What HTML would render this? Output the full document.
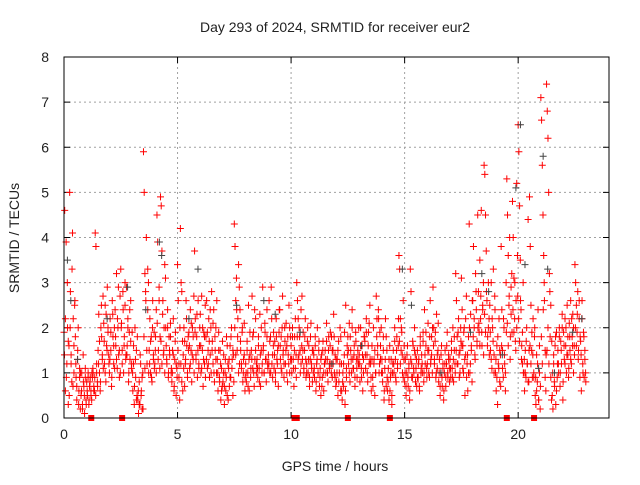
<!DOCTYPE html>
<html><head><meta charset="utf-8"><style>
body{margin:0;background:#fff}
svg text{font-family:"Liberation Sans",sans-serif;font-size:14px;fill:#222}
</style></head><body>
<svg id="chart" width="640" height="480" xmlns="http://www.w3.org/2000/svg">
<rect width="640" height="480" fill="#fff"/>
<text x="335" y="32" text-anchor="middle">Day 293 of 2024, SRMTID for receiver eur2</text>
<text x="335" y="471" text-anchor="middle">GPS time / hours</text>
<text x="19" y="238" text-anchor="middle" transform="rotate(-90 19 238)">SRMTID / TECUs</text>
<g id="grid"></g>
<g id="ticks"></g>
<g id="red"></g>
<g id="gray"></g>
<g id="sq"></g>
<rect x="64" y="57" width="545" height="361" fill="none" stroke="#000" stroke-width="1"/>
</svg>
<script>
const xTicks=[0,5,10,15,20];
const yTicks=[0,1,2,3,4,5,6,7,8];
const binStarts=[];for(let i=0;i<92;i++)binStarts.push(i*0.25);
const redVals=[
[1.9,4.6,0.6,3.9,1.2,2.0,0.3,1.6],[5.0,2.8,1.4,0.8,4.1,2.2,1.0,2.5],[1.8,0.9,0.4,1.3,2.0,0.6,1.1,0.2],[0.5,1.0,0.3,1.4,0.7,0.1,0.9,0.4],
[0.8,0.5,1.0,0.3,0.7,0.9,0.6,0.4],[0.9,1.0,0.7,0.6,4.1,3.8,1.2,0.8],[1.5,2.3,1.0,0.6,2.0,1.8,1.3,2.7],[2.1,1.2,2.5,0.8,1.6,2.9,1.9,1.4],
[1.0,2.2,1.5,0.7,2.6,1.8,1.2,2.0],[2.4,1.6,3.2,1.1,2.0,1.4,0.9,2.7],[3.3,2.1,1.5,2.8,1.0,1.8,2.5,1.3],[2.9,1.6,2.2,0.8,1.9,1.3,2.6,1.1],
[1.9,0.6,1.2,0.3,2.0,0.9,1.5,0.5],[0.4,0.1,0.8,0.3,1.2,0.6,0.2,1.0],[5.9,5.0,3.2,2.8,4.0,1.2,2.4,3.0],[1.5,2.2,1.0,1.8,0.8,2.6,1.3,1.9],
[1.2,1.8,2.4,4.5,3.9,1.5,2.9,1.1],[4.9,4.7,3.7,2.3,1.4,2.0,1.0,3.1],[1.6,1.2,2.4,0.9,1.8,1.4,2.1,1.0],[0.8,1.5,2.2,0.6,1.3,1.9,0.5,1.1],
[3.4,2.6,1.2,0.4,4.2,3.0,0.8,1.7],[1.4,2.0,0.7,1.2,2.6,1.6,0.9,1.8],[1.9,1.1,2.4,1.5,0.8,2.0,1.3,2.7],[3.7,2.2,1.4,1.8,0.9,2.6,1.2,1.6],
[2.3,1.0,2.7,1.5,0.7,1.9,1.2,2.5],[1.8,2.6,1.1,1.5,2.2,0.9,1.4,2.0],[2.8,1.7,1.2,2.4,0.8,1.5,2.0,1.0],[1.3,0.6,1.9,0.9,1.5,0.4,1.1,0.7],
[0.8,1.4,0.3,1.0,0.6,1.8,0.5,1.2],[1.1,0.7,1.6,0.9,2.0,1.3,0.5,1.4],[4.3,3.8,2.6,3.1,1.5,2.2,1.0,2.9],[2.4,1.5,1.1,1.9,0.8,1.3,2.1,0.6],
[1.2,0.8,1.7,1.0,2.5,0.6,1.4,0.9],[1.5,2.7,1.1,1.9,0.7,1.3,2.2,1.0],[1.3,0.9,1.8,1.1,2.3,0.7,1.5,1.0],[2.9,1.6,1.0,2.1,1.3,0.8,1.8,1.2],
[1.4,2.6,1.0,1.8,2.9,1.2,0.9,1.6],[1.1,1.7,0.8,2.2,1.3,1.5,0.7,1.9],[2.4,1.3,1.8,1.0,2.7,1.5,0.9,2.0],[1.2,2.1,1.6,0.8,1.4,2.5,1.0,1.8],
[1.6,1.0,2.0,1.3,0.7,1.8,1.1,1.4],[3.0,2.6,2.2,1.4,1.8,1.0,2.4,1.6],[1.3,1.9,1.0,1.5,2.2,0.9,1.2,1.7],[1.0,1.6,0.7,1.3,2.1,1.1,0.8,1.5],
[1.4,0.9,1.8,0.6,1.2,2.0,1.0,1.5],[0.7,1.1,0.5,1.4,0.9,1.7,0.6,1.2],[1.5,1.0,2.1,1.3,0.8,1.8,1.1,1.6],[1.2,1.8,0.9,1.5,2.3,1.0,1.4,0.7],
[0.8,1.3,0.5,1.7,1.0,2.0,0.6,1.2],[0.4,1.0,0.7,1.4,0.3,2.5,0.9,1.6],[1.8,1.2,2.1,0.8,1.5,1.0,2.4,1.3],[1.1,1.6,0.7,1.9,1.3,0.9,1.5,1.2],
[1.4,0.8,2.0,1.1,1.6,0.6,1.3,1.8],[1.7,1.1,2.2,1.4,0.8,1.9,1.2,2.5],[1.2,0.6,1.6,0.9,2.0,1.3,0.5,1.0],[2.7,2.2,1.6,2.4,1.0,1.9,1.3,2.0],
[1.3,0.8,1.8,0.4,1.1,2.2,0.7,1.5],[0.6,1.1,0.4,1.6,0.9,1.3,0.3,1.0],[1.5,1.0,2.0,1.3,0.8,1.8,1.2,1.6],[3.6,3.3,2.2,1.5,1.9,1.0,2.6,1.3],
[0.8,1.3,0.5,1.0,1.6,0.7,1.1,0.4],[3.3,2.8,1.2,0.9,1.6,1.0,2.0,1.4],[1.1,0.7,1.5,0.9,1.3,0.6,1.8,1.0],[1.4,1.0,1.9,0.8,2.4,1.2,1.6,1.1],
[1.2,2.1,1.5,0.9,2.6,1.3,1.8,1.0],[2.9,2.0,1.3,1.7,0.9,2.3,1.1,1.5],[0.8,1.3,0.5,1.0,1.6,0.7,1.2,0.4],[1.0,1.5,0.7,1.2,1.9,0.9,1.4,1.1],
[1.3,0.9,1.7,1.1,2.0,0.8,1.5,1.2],[3.2,2.6,1.8,1.2,2.2,0.9,1.5,2.0],[3.1,2.4,1.6,1.0,2.0,0.5,1.4,2.7],[1.2,0.6,1.8,4.3,1.0,2.3,1.5,0.8],
[2.6,3.8,2.0,1.4,3.2,2.4,1.7,4.5],[2.8,1.9,3.5,2.2,4.6,1.6,2.5,3.0],[5.6,5.4,4.5,3.7,2.6,1.8,3.0,2.2],[2.5,1.5,3.0,1.1,2.0,3.3,1.4,2.7],
[1.0,0.6,1.6,0.3,1.2,2.2,0.8,1.4],[3.8,2.4,1.5,0.9,2.0,1.2,0.6,3.0],[5.3,4.5,3.6,2.5,4.0,1.8,2.9,3.2],[4.8,4.0,3.1,2.2,1.7,2.6,5.2,3.6],
[6.5,5.9,4.7,3.5,2.4,1.6,1.2,3.0],[1.0,0.6,1.5,0.9,2.0,1.2,4.4,0.8],[4.9,3.8,2.5,1.5,0.9,2.2,1.0,1.8],[0.5,0.3,1.4,0.8,2.4,0.4,1.0,0.2],
[7.1,6.6,5.6,4.5,3.6,2.6,1.5,0.6],[7.4,6.8,6.2,5.0,3.2,1.8,2.5,0.4],[0.5,0.2,1.2,0.8,1.6,0.3,1.9,0.9],[1.5,1.0,2.0,0.7,1.7,1.2,2.3,0.4],
[1.9,1.3,2.2,1.6,1.0,2.5,1.4,0.9],[2.1,1.5,2.6,1.2,1.8,2.3,1.0,1.6],[3.4,3.0,2.5,1.9,2.8,1.5,2.2,0.9],[1.7,0.6,2.6,1.2,1.9,0.9,1.5,1.0]
];
const redVals2=[
[1.4,2.2,0.9,3.0,1.7,0.5],[2.0,1.2,3.3,0.7,1.6,2.6],[1.2,0.7,1.5,0.3,0.9,1.0],[0.6,0.2,0.8,0.5,1.1,0.3],
[0.6,0.9,0.4,0.8,0.5,1.0],[1.1,0.6,0.9,0.5,1.0,0.7],[1.2,1.7,0.8,2.5,1.4,1.1],[1.7,1.0,2.3,1.5,2.0,1.2],
[1.3,1.9,0.9,2.3,1.6,1.1],[1.8,1.3,2.2,2.9,1.5,1.0],[2.0,1.2,2.4,1.6,3.0,1.4],[1.4,2.0,1.0,2.4,1.7,1.2],
[1.0,1.6,0.7,1.3,0.4,1.8],[0.6,0.3,1.4,0.5,0.9,0.2],[1.8,1.1,2.6,1.5,3.3,1.0],[1.2,1.7,0.9,2.0,1.4,1.1],
[1.5,1.0,2.1,1.3,2.6,1.8],[1.7,1.2,2.6,1.5,3.4,2.0],[1.3,2.0,1.0,1.5,1.8,1.1],[1.0,1.4,0.7,1.7,1.2,0.9],
[1.5,0.9,2.0,1.2,2.8,0.6],[1.1,1.7,1.3,2.2,1.0,1.5],[1.6,1.2,2.1,1.4,1.8,1.0],[1.9,1.3,2.3,1.5,1.1,2.0],
[1.6,1.1,2.0,1.3,1.8,0.9],[1.3,1.9,1.2,1.7,2.4,1.0],[1.5,2.1,1.0,1.8,1.3,2.6],[1.0,1.5,0.8,1.2,0.6,1.7],
[1.0,0.7,1.3,0.9,1.6,0.4],[1.3,0.9,1.8,1.1,1.5,0.8],[2.0,1.4,2.4,1.8,3.4,1.2],[1.7,1.2,2.0,1.0,1.4,0.9],
[1.0,1.5,0.7,1.3,1.9,1.1],[1.3,1.8,1.0,2.4,1.5,1.2],[1.1,1.6,0.8,1.4,2.0,1.2],[1.5,1.0,1.9,1.3,2.4,1.1],
[1.2,1.7,1.0,2.2,1.4,1.9],[1.4,1.0,1.8,1.2,1.6,2.4],[1.6,1.1,2.0,1.4,1.2,1.7],[1.5,1.0,1.8,1.2,2.0,1.3],
[1.3,1.8,1.1,1.5,2.2,0.9],[1.8,1.3,2.0,1.5,1.2,2.7],[1.5,1.1,1.8,1.3,1.0,2.0],[1.3,0.9,1.8,1.2,1.5,1.0],
[1.1,1.6,0.8,1.3,1.0,1.7],[0.9,1.3,0.7,1.5,1.0,1.2],[1.3,1.7,1.0,1.5,1.2,1.9],[1.0,1.5,1.2,1.8,0.9,1.3],
[1.0,1.5,0.8,1.2,1.8,0.6],[0.8,1.2,1.9,0.6,1.1,1.4],[1.5,1.0,1.8,1.3,2.0,1.1],[1.4,0.9,1.7,1.1,1.3,2.0],
[1.2,1.6,0.9,1.4,1.0,1.8],[1.4,1.9,1.0,1.6,2.1,1.3],[0.9,1.3,0.7,1.2,1.5,1.0],[1.8,1.4,2.2,1.2,1.6,1.0],
[1.0,1.5,0.6,1.3,1.8,0.9],[0.8,1.3,0.6,1.0,0.5,1.2],[1.2,1.7,0.9,1.5,1.1,2.2],[1.7,1.2,2.0,1.4,0.9,1.6],
[1.0,0.7,1.4,0.9,1.2,0.6],[1.3,0.9,1.7,1.1,1.5,0.8],[1.3,0.9,1.2,0.7,1.6,1.1],[1.2,1.7,1.0,1.4,1.9,0.9],
[1.5,1.0,1.8,1.2,1.4,2.0],[1.6,1.2,1.9,1.0,1.4,2.1],[1.0,0.7,1.4,0.9,1.1,0.6],[1.2,0.9,1.6,1.0,1.3,0.8],
[1.1,1.5,0.9,1.3,1.8,1.0],[1.5,1.2,1.9,1.4,1.0,1.7],[1.6,1.1,1.9,1.3,2.2,0.9],[1.4,1.0,2.0,1.2,1.6,2.6],
[1.8,2.2,1.3,2.8,1.6,2.0],[2.1,1.6,2.7,1.9,2.4,1.4],[2.3,1.9,2.8,1.6,2.0,1.4],[1.9,1.3,2.2,1.7,1.0,2.4],
[1.3,0.9,1.8,1.1,1.5,0.7],[1.6,1.1,2.2,1.4,1.0,1.9],[2.1,1.6,2.7,1.3,2.3,1.9],[2.4,1.9,3.0,1.5,2.0,2.7],
[2.2,1.7,2.6,1.3,1.9,1.0],[1.3,1.0,1.7,1.2,0.8,1.5],[1.6,1.2,1.9,1.4,0.9,2.0],[0.9,0.6,1.2,0.4,1.6,0.7],
[1.8,1.2,2.4,3.0,0.9,1.4],[1.5,2.0,1.2,2.8,0.9,1.7],[1.0,1.4,0.7,1.8,0.6,1.2],[1.2,1.8,1.0,1.5,2.0,0.8],
[1.6,1.2,2.0,1.4,1.8,1.1],[1.8,1.3,2.2,1.6,2.0,1.4],[2.0,1.6,2.3,1.3,2.6,1.8],[1.4,2.2,1.0,1.8,1.3,0.8]
];
const grayTimes=[0.15,0.3,0.6,1.9,2.8,3.6,4.2,4.3,5.5,5.9,7.6,8.8,9.3,10.4,11.8,13.1,14.9,15.3,16.6,17.9,18.4,18.7,19.3,19.9,20.1,20.3,20.9,21.1,21.3,21.6,22.4,22.8];
const grayVals=[3.5,2.6,1.3,2.2,2.9,2.4,3.9,3.6,2.2,3.3,2.5,2.6,2.3,1.9,1.2,1.6,3.3,2.5,1.0,1.9,3.2,2.8,1.4,5.1,6.5,3.4,1.1,5.8,3.3,1.0,1.9,2.2];
const gapTimes=[1.2,2.56,10.15,10.25,12.5,14.35,19.5,20.7];

const NS="http://www.w3.org/2000/svg";
const X0=64,X1=609,Y0=418,Y1=57,XMAX=24,YMAX=8;
const sx=t=>X0+t/XMAX*(X1-X0), sy=v=>Y0-v/YMAX*(Y0-Y1);
function mk(tag,attrs,parent){const e=document.createElementNS(NS,tag);for(const k in attrs)e.setAttribute(k,attrs[k]);document.getElementById(parent).appendChild(e);return e;}
xTicks.forEach(t=>{
  const x=sx(t);
  if(t>0){const g=mk('line',{x1:x,x2:x,y1:Y1,y2:Y0,stroke:'#a0a0a0','stroke-dasharray':'2,3'},'grid');
  
  }
  const tk=mk('path',{d:`M${x},${Y0}v-6M${x},${Y1}v6`,stroke:'#000'},'ticks');
  
  
  const l=mk('text',{x:x,y:Y0+21,'text-anchor':'middle'},'ticks');l.textContent=t;
  
  
});
yTicks.forEach(v=>{
  const y=sy(v);
  if(v>0&&v<8){const g=mk('line',{x1:X0,x2:X1,y1:y,y2:y,stroke:'#a0a0a0','stroke-dasharray':'2,3'},'grid');
  
  }
  const tk=mk('path',{d:`M${X0},${y}h6M${X1},${y}h-6`,stroke:'#000'},'ticks');
  
  
  const l=mk('text',{x:X0-15,y:y+5,'text-anchor':'end'},'ticks');l.textContent=v;
  
  
});
function plus(t,v,col,parent,name){
  const x=sx(t),y=sy(v);
  const p=mk('path',{d:`M${x-3.5},${y}h7M${x},${y-3.5}v7`,stroke:col,'stroke-width':1},parent);
  
  
}
redVals.forEach((arr,i)=>arr.forEach((v,j)=>plus(binStarts[i]+j*0.25/arr.length,v,'#ff0000','red','red-point')));
redVals2.forEach((arr,i)=>arr.forEach((v,j)=>plus(binStarts[i]+(j+0.5)*0.25/arr.length,v,'#ff0000','red','red-point')));
grayTimes.forEach((t,i)=>plus(t,grayVals[i],'#444','gray','gray-point'));
gapTimes.forEach(t=>{
  const r=mk('rect',{x:sx(t)-3,y:Y0-3,width:6,height:6,fill:'#ff0000'},'sq');
  
  
});
</script>
</body></html>
